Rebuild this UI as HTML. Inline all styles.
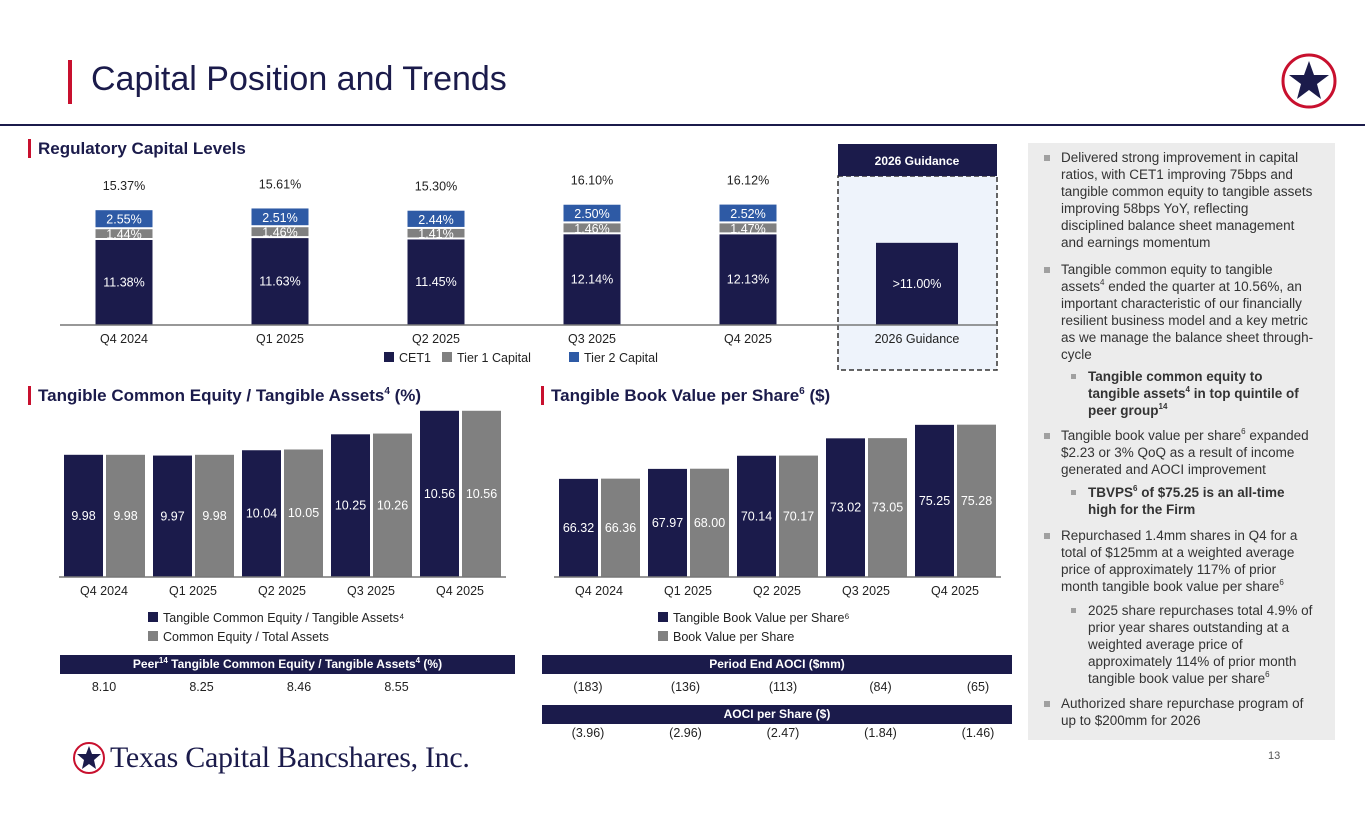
<!DOCTYPE html>
<html><head><meta charset="utf-8">
<style>
body{margin:0;width:1365px;height:829px;background:#fff;position:relative;overflow:hidden;font-family:"Liberation Sans",Arial,sans-serif;color:#222}
.a{position:absolute}
sup{font-size:8px;line-height:0;vertical-align:baseline;position:relative;top:-0.45em}
.h2 sup{font-size:10px;top:-0.7em}
.hdr sup{top:-0.6em}
.t{position:absolute;white-space:nowrap;font-size:13.5px;line-height:18px;color:#333}
.t sup{top:-0.8em}
.h2{position:absolute;font-size:17px;font-weight:bold;color:#1b1b4b;white-space:nowrap}
.rb{position:absolute;width:3px;background:#c8102e}
.hdr{position:absolute;background:#1b1b4b;color:#fff;font-size:12px;font-weight:bold;text-align:center;line-height:19px}
.v{position:absolute;font-size:12.5px;color:#222;transform:translateX(-50%);white-space:nowrap}
svg text{font-family:"Liberation Sans",Arial,sans-serif}
</style></head><body>
<div class="rb" style="left:68px;top:60px;height:44px;width:4px"></div>
<div class="a" style="left:91px;top:60px;font-size:34px;color:#1b1b4b">Capital Position and Trends</div>
<div class="a" style="left:0;top:124px;width:1365px;height:2px;background:#1b1b4b"></div>
<svg class="a" style="left:1280px;top:52px" width="58" height="58" viewBox="0 0 58 58"><circle cx="29" cy="29" r="26" fill="#fff" stroke="#c8102e" stroke-width="3"/><polygon points="29,9 34,23 49,23 37,32 41,47 29,38 17,47 21,32 9,23 24,23" fill="#1b1b4b"/></svg>

<div class="rb" style="left:28px;top:139px;height:19px"></div>
<div class="h2" style="left:38px;top:139px">Regulatory Capital Levels</div>
<div class="rb" style="left:28px;top:386px;height:19px"></div>
<div class="h2" style="left:38px;top:386px">Tangible Common Equity / Tangible Assets<sup>4</sup> (%)</div>
<div class="rb" style="left:541px;top:386px;height:19px"></div>
<div class="h2" style="left:551px;top:386px">Tangible Book Value per Share<sup>6</sup> ($)</div>

<svg id="chart" class="a" style="left:0;top:0" width="1020" height="829"></svg>

<div class="hdr" style="left:60px;top:655px;width:455px">Peer<sup>14</sup> Tangible Common Equity / Tangible Assets<sup>4</sup> (%)</div>
<div class="hdr" style="left:542px;top:655px;width:470px">Period End AOCI ($mm)</div>
<div class="hdr" style="left:542px;top:705px;width:470px">AOCI per Share ($)</div>
<div id="vals"></div>

<svg class="a" style="left:72px;top:741px" width="34" height="34" viewBox="0 0 34 34"><circle cx="17" cy="17" r="15" fill="#fff" stroke="#c8102e" stroke-width="2"/><polygon points="17,5 20,13 29,13 22,19 24,28 17,23 10,28 12,19 5,13 14,13" fill="#1b1b4b"/></svg>
<div class="a" style="left:110px;top:741px;font-family:'Liberation Serif',serif;font-size:30px;color:#1b1b4b;letter-spacing:-0.3px">Texas Capital Bancshares, Inc.</div>
<div class="a" style="left:1268px;top:750px;font-size:11px;color:#555">13</div>

<div class="a" style="left:1028px;top:143px;width:307px;height:597px;background:#ececec"></div>
<div id="bul"></div>

<script>
// ---------- data ----------
const regCats=["Q4 2024","Q1 2025","Q2 2025","Q3 2025","Q4 2025"];
const cet1=[11.38,11.63,11.45,12.14,12.13];
const tier1=[1.44,1.46,1.41,1.46,1.47];
const tier2=[2.55,2.51,2.44,2.50,2.52];
const totals=["15.37%","15.61%","15.30%","16.10%","16.12%"];
const guidanceValue=11.00;
const tceCats=["Q4 2024","Q1 2025","Q2 2025","Q3 2025","Q4 2025"];
const tceVals=[9.98,9.97,10.04,10.25,10.56];
const ceVals=[9.98,9.98,10.05,10.26,10.56];
const tbvVals=[66.32,67.97,70.14,73.02,75.25];
const bvVals=[66.36,68.00,70.17,73.05,75.28];
const peerVals=["8.10","8.25","8.46","8.55"];
const aociVals=["(183)","(136)","(113)","(84)","(65)"];
const aociShare=["(3.96)","(2.96)","(2.47)","(1.84)","(1.46)"];

const NAVY="#1b1b4b",GRAY="#808080",BLUE="#2e5aa5";
const svg=document.getElementById('chart');
const NS="http://www.w3.org/2000/svg";
function el(tag,attrs,parent){const e=document.createElementNS(NS,tag);for(const k in attrs)e.setAttribute(k,attrs[k]);(parent||svg).appendChild(e);return e;}
function txt(x,y,s,opt,parent){const e=el('text',Object.assign({x:x,y:y,'text-anchor':'middle','font-size':12.5,fill:'#222'},opt||{}),parent);e.textContent=s;return e;}

// ---------- regulatory chart ----------
const rBase=325,rScale=7.47;
const rY=v=>rBase-v*rScale;
const rX=i=>124+i*156;
let g=el('rect',{x:838,y:176,width:159,height:194,fill:'#eef3fb',stroke:'#333','stroke-width':1.5,'stroke-dasharray':'5,3'});


let gh=el('rect',{x:838,y:144,width:159,height:32,fill:NAVY});


txt(917,165,"2026 Guidance",{fill:'#fff','font-weight':'bold','font-size':12});
regCats.forEach((c,i)=>{
  const x=rX(i)-28.5,w=57;
  let y0=rBase;
  const segs=[[cet1[i],NAVY,'cet1'],[tier1[i],GRAY,'tier1'],[tier2[i],BLUE,'tier2']];
  segs.forEach(([v,col,nm])=>{
    const h=v*rScale;
    const r=el('rect',{x:x,y:y0-h,width:w,height:h-(nm==='cet1'?0:2),fill:col});
    
    
    txt(rX(i),y0-h/2+4,v.toFixed(2)+"%",{fill:'#fff'});
    y0-=h;
  });
  txt(rX(i),y0-20,totals[i]);
  txt(rX(i),343,c);
});
const gx=917;
let gb=el('rect',{x:gx-41,y:rY(guidanceValue),width:82,height:guidanceValue*rScale,fill:NAVY});


txt(gx,rBase-guidanceValue*rScale/2+4,">"+guidanceValue.toFixed(2)+"%",{fill:'#fff'});
txt(gx,343,"2026 Guidance");
el('line',{x1:60,y1:rBase,x2:997,y2:rBase,stroke:'#777','stroke-width':1.5});
[[NAVY,"CET1",384],[GRAY,"Tier 1 Capital",442],[BLUE,"Tier 2 Capital",569]].forEach(([c,s,x])=>{
  el('rect',{x:x,y:352,width:10,height:10,fill:c});
  txt(x+15,362,s,{'text-anchor':'start'});
});

// ---------- pair charts ----------
function pairChart(cats,a,b,x0,step,base,min,scale,fmt,legA,legB,lx,nm){
  const y=v=>base-(v-min)*scale;
  cats.forEach((c,i)=>{
    const x=x0+i*step;
    [[a[i],NAVY,x,'a'],[b[i],GRAY,x+42,'b']].forEach(([v,col,bx,k])=>{
      const r=el('rect',{x:bx,y:y(v),width:39,height:base-y(v),fill:col});
      
      
      txt(bx+19.5,(y(v)+base)/2+4,fmt(v),{fill:'#fff'});
    });
    txt(x+40,595,c);
  });
  el('line',{x1:x0-5,y1:base,x2:x0+4*step+86,y2:base,stroke:'#777','stroke-width':1.5});
  el('rect',{x:lx,y:612,width:10,height:10,fill:NAVY});
  txt(lx+15,622,legA,{'text-anchor':'start'});
  el('rect',{x:lx,y:631,width:10,height:10,fill:GRAY});
  txt(lx+15,641,legB,{'text-anchor':'start'});
}
pairChart(tceCats,tceVals,ceVals,64,89,577,8.37,75.9,v=>v.toFixed(2),"Tangible Common Equity / Tangible Assets\u2074","Common Equity / Total Assets",148,'tce');
pairChart(tceCats,tbvVals,bvVals,559,89,577,50.1,6.05,v=>v.toFixed(2),"Tangible Book Value per Share\u2076","Book Value per Share",658,'tbv');

// ---------- value rows ----------
const vals=document.getElementById('vals');
function row(arr,x0,step,top,nm){arr.forEach((s,i)=>{const d=document.createElement('div');d.className='v';d.style.left=(x0+i*step)+'px';d.style.top=top+'px';d.textContent=s;


vals.appendChild(d);});}
row(peerVals,104,97.5,680,'peer-value');
row(aociVals,588,97.5,680,'aoci-value');
row(aociShare,588,97.5,726,'aoci-share-value');

// ---------- bullets ----------
const lines=[
[158,0,"Delivered strong improvement in capital",1],[175,0,"ratios, with CET1 improving 75bps and"],[192,0,"tangible common equity to tangible assets"],[209,0,"improving 58bps YoY, reflecting"],[226,0,"disciplined balance sheet management"],[243,0,"and earnings momentum"],
[270,0,"Tangible common equity to tangible",1],[287,0,"assets<sup>4</sup> ended the quarter at 10.56%, an"],[304,0,"important characteristic of our financially"],[321,0,"resilient business model and a key metric"],[338,0,"as we manage the balance sheet through-"],[355,0,"cycle"],
[377,1,"<b>Tangible common equity to</b>",1],[394,1,"<b>tangible assets<sup>4</sup> in top quintile of</b>"],[411,1,"<b>peer group<sup>14</sup></b>"],
[436,0,"Tangible book value per share<sup>6</sup> expanded",1],[453,0,"$2.23 or 3% QoQ as a result of income"],[470,0,"generated and AOCI improvement"],
[493,1,"<b>TBVPS<sup>6</sup> of $75.25 is an all-time</b>",1],[510,1,"<b>high for the Firm</b>"],
[536,0,"Repurchased 1.4mm shares in Q4 for a",1],[553,0,"total of $125mm at a weighted average"],[570,0,"price of approximately 117% of prior"],[587,0,"month tangible book value per share<sup>6</sup>"],
[611,1,"2025 share repurchases total 4.9% of",1],[628,1,"prior year shares outstanding at a"],[645,1,"weighted average price of"],[662,1,"approximately 114% of prior month"],[679,1,"tangible book value per share<sup>6</sup>"],
[704,0,"Authorized share repurchase program of",1],[721,0,"up to $200mm for 2026"]];
const bul=document.getElementById('bul');
lines.forEach(([y,lvl,h,b],i)=>{
  const x=lvl?1088:1061;
  const d=document.createElement('div');d.className='t';d.style.left=x+'px';d.style.top=(y-9)+'px';
  d.innerHTML=h;
  
  
  bul.appendChild(d);
  if(b){const m=document.createElement('div');m.className='a';m.style.left=(x-17)+'px';m.style.top=(y-3)+'px';
  m.style.width=(lvl?5:6)+'px';m.style.height=(lvl?5:6)+'px';m.style.background='#a0a0a0';
  
  
  bul.appendChild(m);}
});
</script>
</body></html>
